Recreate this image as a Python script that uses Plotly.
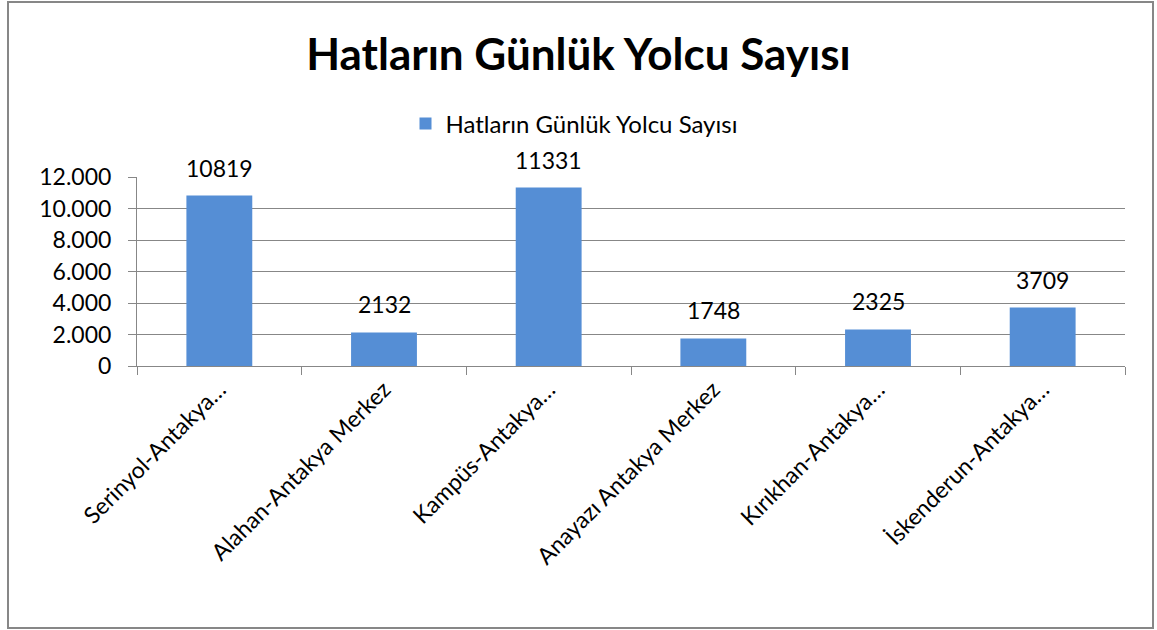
import plotly.graph_objects as go

categories = ["Serinyol-Antakya…", "Alahan-Antakya Merkez", "Kampüs-Antakya…",
              "Anayazı Antakya Merkez", "Kırıkhan-Antakya…", "İskenderun-Antakya…"]
passengers = [10819, 2132, 11331, 1748, 2325, 3709]
series_name = "Hatların Günlük Yolcu Sayısı"
y_ticks = [0, 2000, 4000, 6000, 8000, 10000, 12000]

W, H = 1157, 630
L, R, T, B = 137, 32, 177, 264
pw, ph = W - L - R, H - T - B

def px_x(x):
    return (x - L) / pw

def px_y(y):
    return (H - B - y) / ph

font = "Lato, 'Open Sans', sans-serif"
grid = "#878787"

fig = go.Figure()
fig.add_trace(go.Bar(
    x=categories,
    y=passengers,
    name=series_name,
    marker=dict(color="#558ED5", line=dict(width=0)),
    width=0.4,
    showlegend=True,
))

# value labels sit a bit higher above the bars, like in Excel
for c, v in zip(categories, passengers):
    fig.add_annotation(x=c, y=v, text=str(v), showarrow=False,
                       yanchor="bottom", yshift=12,
                       font=dict(size=23, color="black"))

fig.update_layout(
    width=W, height=H,
    margin=dict(l=L, r=R, t=T, b=B, autoexpand=False),
    paper_bgcolor="white",
    plot_bgcolor="white",
    font=dict(family=font, color="black"),
    separators=",.",
    title=dict(text="<b>Hatların Günlük Yolcu Sayısı</b>", x=0.5, xanchor="center",
               y=1 - 55 / H, yanchor="middle", yref="container",
               font=dict(size=44, color="black")),
    legend=dict(orientation="h", x=px_x(574), xanchor="center", y=px_y(124), yanchor="middle",
                font=dict(size=24), itemwidth=30),
    xaxis=dict(
        type="category",
        showline=True, linecolor=grid, linewidth=1,
        ticks="outside", tickson="boundaries", ticklen=8, tickcolor=grid,
        tickangle=-45, tickfont=dict(size=23),
        showgrid=False,
    ),
    yaxis=dict(
        range=[0, 12000],
        tickvals=y_ticks,
        tickformat=",d",
        showline=True, linecolor=grid, linewidth=1,
        ticks="outside", ticklen=8, tickcolor=grid,
        ticklabelstandoff=12,
        showgrid=True, gridcolor=grid, gridwidth=1,
        zeroline=False,
        tickfont=dict(size=23),
    ),
    shapes=[dict(type="rect", xref="paper", yref="paper",
                 x0=px_x(8), x1=px_x(1153), y0=px_y(628), y1=px_y(2),
                 line=dict(color="#878787", width=2), fillcolor="rgba(0,0,0,0)",
                 layer="below")],
)

fig.write_html("out.html", config={"displayModeBar": False},
               post_script="document.body.style.margin='0';document.body.style.padding='0';")
